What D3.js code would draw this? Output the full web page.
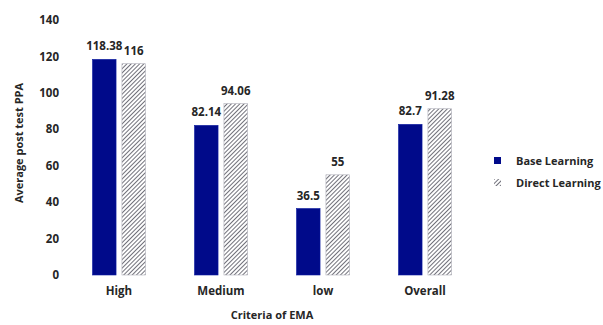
<!DOCTYPE html>
<html>
<head>
<meta charset="utf-8">
<script src="https://cdn.jsdelivr.net/npm/d3@7"></script>
<style>
  body { margin: 0; background: #fff; }
  text { font-family: "Open Sans", "DejaVu Sans", sans-serif; font-weight: bold; fill: #262626; }
</style>
</head>
<body>
<div id="chart"></div>
<script>
const categories = ["High", "Medium", "low", "Overall"];
const seriesNames = ["Base Learning", "Direct Learning"];
const baseValues = [118.38, 82.14, 36.5, 82.7];
const directValues = [116, 94.06, 55, 91.28];
const baseLabels = ["118.38", "82.14", "36.5", "82.7"];
const directLabels = ["116", "94.06", "55", "91.28"];
const yTicks = [0, 20, 40, 60, 80, 100, 120, 140];

const width = 603, height = 325;
const svg = d3.select("#chart").append("svg")
    .attr("width", width)
    .attr("height", height);

// hatch for the second series
let defs = svg.append("defs");
let pat = defs.append("pattern")
    .attr("id", "hatch")
    .attr("patternUnits", "userSpaceOnUse")
    .attr("width", 3)
    .attr("height", 3)
    .attr("patternTransform", "rotate(45)");
pat.append("rect").attr("width", 3).attr("height", 3).attr("fill", "#fff");
pat.append("line")
    .attr("x1", 0).attr("y1", 0).attr("x2", 0).attr("y2", 3)
    .attr("stroke", "#4c4c58").attr("stroke-width", 1.6);

const yScale = d3.scaleLinear().domain([0, 140]).range([275, 20]);
const xScale = d3.scaleBand().domain(categories).range([68, 476]).paddingInner(0).paddingOuter(0);
const groupW = 53;
const sub = d3.scaleBand().domain(seriesNames).range([0, groupW]).paddingInner(0.2);
const barOff = (xScale.bandwidth() - groupW) / 2;

const data = categories.map((c, i) => ({
    cat: c,
    vals: [
        { s: seriesNames[0], v: baseValues[i], lbl: baseLabels[i] },
        { s: seriesNames[1], v: directValues[i], lbl: directLabels[i] }
    ]
}));

// y axis, labels only
let yAxis = d3.axisLeft(yScale).tickValues(yTicks).tickSize(0).tickPadding(0).tickFormat(d3.format("d"));
let yG = svg.append("g").attr("transform", "translate(59,0)").call(yAxis);
yG.select(".domain").remove();
yG.selectAll("text").style("font-size", "11.5px").attr("fill", "#262626").style("font-family", null);

// x axis, labels only
let xAxis = d3.axisBottom(xScale).tickSize(0).tickPadding(8);
let xG = svg.append("g").attr("transform", "translate(0,279)").call(xAxis);
xG.select(".domain").remove();
xG.selectAll("text").style("font-size", "11.5px").attr("fill", "#262626").style("font-family", null);

let groups = svg.selectAll("g.cat").data(data).enter()
    .append("g")
    .attr("class", "cat")
    .attr("transform", (d) => `translate(${xScale(d.cat) + barOff},0)`);

groups.selectAll("rect").data((d) => d.vals).enter()
    .append("rect")
    .attr("x", (d) => sub(d.s))
    .attr("width", sub.bandwidth())
    .attr("y", (d) => yScale(d.v))
    .attr("height", (d) => yScale(0) - yScale(d.v))
    .attr("fill", (d, i) => i == 0 ? "#000a8a" : "url(#hatch)")
    .attr("stroke", (d, i) => i == 0 ? "#0a1aa0" : "#b0b0ba")
    .attr("stroke-width", 0.6);

groups.selectAll("text.val").data((d) => d.vals).enter()
    .append("text")
    .attr("class", "val")
    .attr("x", (d) => sub(d.s) + sub.bandwidth() / 2)
    .attr("y", (d) => yScale(d.v) - 9)
    .attr("text-anchor", "middle")
    .style("font-size", "11.5px")
    .text((d) => d.lbl);

// axis titles
svg.append("text")
    .attr("transform", "translate(23,143) rotate(-90)")
    .attr("text-anchor", "middle")
    .style("font-size", "11px")
    .text("Average post test PPA");

svg.append("text")
    .attr("x", 272)
    .attr("y", 319)
    .attr("text-anchor", "middle")
    .style("font-size", "11px")
    .text("Criteria of EMA");

// legend
let legend = svg.append("g").attr("transform", "translate(494,0)");
let legItems = legend.selectAll("g").data(seriesNames).enter()
    .append("g")
    .attr("transform", (d, i) => `translate(0,${161 + i * 22})`);
legItems.append("rect")
    .attr("x", 0).attr("y", -4)
    .attr("width", 7).attr("height", 7)
    .attr("fill", (d, i) => i == 0 ? "#000a8a" : "url(#hatch)");
legItems.append("text")
    .attr("x", 22)
    .attr("y", 4)
    .style("font-size", "11px")
    .text((d) => d);
</script>
</body>
</html>
